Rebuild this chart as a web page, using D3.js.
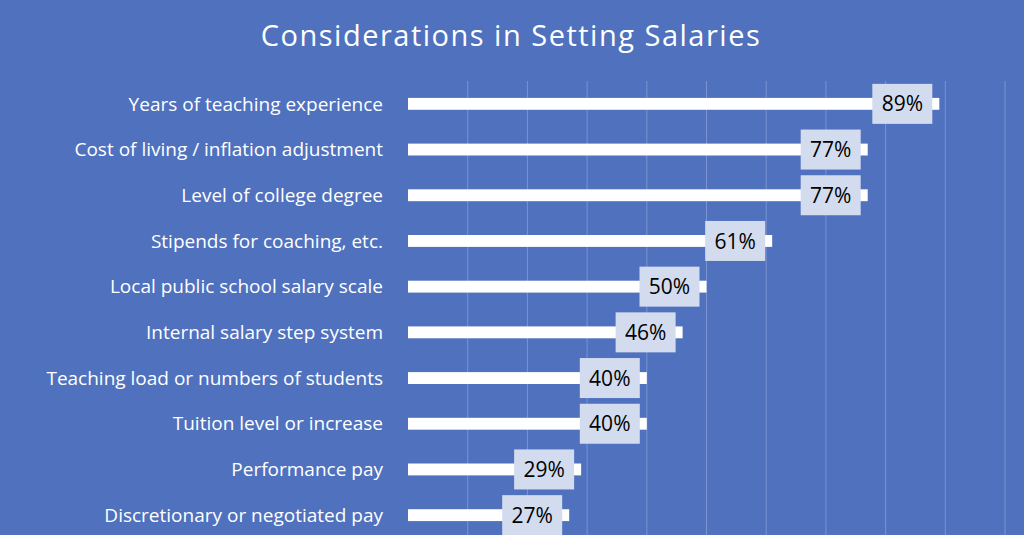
<!DOCTYPE html>
<html><head><meta charset="utf-8">
<script src="https://cdn.jsdelivr.net/npm/d3@7"></script>
<style>body{margin:0;background:#4F71BE;}svg{display:block;font-family:"Open Sans",Calibri,sans-serif;}</style>
</head><body><svg id="c" width="1024" height="535"></svg>
<script>
const categories = ["Years of teaching experience","Cost of living / inflation adjustment","Level of college degree","Stipends for coaching, etc.","Local public school salary scale","Internal salary step system","Teaching load or numbers of students","Tuition level or increase","Performance pay","Discretionary or negotiated pay"];
const values = [89,77,77,61,50,46,40,40,29,27];
const gridTicks = d3.range(0,101,10);

const svg = d3.select("#c");
svg.append("rect").attr("width",1024).attr("height",535).attr("fill","#4F71BE");
svg.append("text").attr("x",511).attr("y",46).attr("text-anchor","middle")
  .attr("fill","#fff").attr("font-size",29).attr("letter-spacing",1.5).text("Considerations in Setting Salaries");

const x = d3.scaleLinear().domain([0,100]).range([408,1005]);
const y = d3.scaleBand().domain(categories).range([81,538]).paddingInner(0.74).paddingOuter(0.37);

svg.append("g").selectAll("line").data(gridTicks.slice(1)).join("line")
  .attr("x1",d=>x(d)).attr("x2",d=>x(d)).attr("y1",81).attr("y2",535)
  .attr("stroke","#7B93D0").attr("stroke-width",1);

svg.append("g").selectAll("rect").data(values).join("rect")
  .attr("x",x(0)).attr("y",(d,i)=>y(categories[i])).attr("height",y.bandwidth())
  .attr("width",d=>x(d)-x(0)).attr("fill","#fff");

svg.append("g").selectAll("text").data(categories).join("text")
  .attr("x",383).attr("y",d=>y(d)+y.bandwidth()/2).attr("dy","0.35em")
  .attr("text-anchor","end").attr("fill","#fff").attr("font-size",19).text(d=>d);

const lab = svg.append("g").selectAll("g").data(values).join("g")
  .attr("transform",(d,i)=>`translate(${x(d)-37},${y(categories[i])+y.bandwidth()/2})`);
lab.append("rect").attr("x",-30).attr("y",-20).attr("width",60).attr("height",40).attr("fill","#D3DCEF");
lab.append("text").attr("text-anchor","middle").attr("dy","0.36em").attr("font-size",21).attr("fill","#000").text(d=>d+"%");
</script></body></html>
